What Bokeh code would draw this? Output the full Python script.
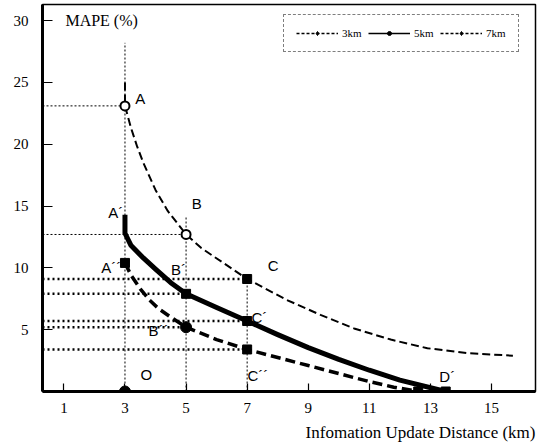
from bokeh.plotting import figure
from bokeh.models import Range1d, Label, Legend, LegendItem, FixedTicker, ColumnDataSource, Title
from bokeh.embed import file_html
from bokeh.resources import INLINE
from bokeh.core.properties import value

NaN = float("nan")

# ---------------- data ----------------
x_3km = [3.0, 3.0, 3.2, 3.4, 3.6, 4.0, 4.4, 5.0, 5.5, 7.0, 8.3, 9.4, 10.5, 11.7, 12.9, 14.2, 15.7]
y_3km = [25.0, 23.1, 21.3, 19.8, 18.5, 16.3, 14.6, 12.7, 11.6, 9.1, 7.4, 6.2, 5.1, 4.2, 3.5, 3.1, 2.9]

x_5km = [3.0, 3.0, 3.2, 3.6, 4.0, 4.5, 5.0, 6.0, 7.0, 8.0, 9.0, 10.0, 11.0, 12.0, 13.5]
y_5km = [14.3, 12.8, 11.8, 10.8, 9.9, 8.8, 7.9, 6.8, 5.7, 4.6, 3.55, 2.6, 1.72, 0.92, 0.0]

x_7km = [3.0, 3.2, 3.5, 3.8, 4.1, 4.45, 5.0, 6.0, 7.0, 8.0, 9.0, 10.0, 11.0, 11.8, 12.6]
y_7km = [10.4, 9.4, 8.3, 7.4, 6.7, 6.1, 5.2, 4.2, 3.4, 2.75, 2.1, 1.45, 0.8, 0.35, 0.0]

x_ticks = [1, 3, 5, 7, 9, 11, 13, 15]
y_ticks = [5, 10, 15, 20, 25, 30]

# marked points
open_x = [3, 5]
open_y = [23.1, 12.7]
square_x = [7, 5, 7, 13.5, 3, 7, 12.6]
square_y = [9.1, 7.9, 5.7, 0.0, 10.4, 3.4, 0.0]
dot_x = [5, 3]
dot_y = [5.2, 0.0]

# reference (projection) lines
thin_h_y = [23.1, 12.7]
thin_h_xend = [3, 5]
thick_h_y = [9.1, 7.9, 5.7, 5.2, 3.4]
thick_h_xend = [7, 5, 7, 5, 7]
vert_x = [3, 5, 7]
vert_top = [28.2, 14.1, 9.1]

# point names
pt_names = ["A", "B", "C", "A´", "B´", "C´", "A´´", "B´´", "C´´", "D´", "O"]
pt_lx = [3.5, 5.35, 7.85, 2.7, 4.75, 7.4, 2.55, 4.1, 7.35, 13.55, 3.7]
pt_ly = [23.7, 15.2, 10.2, 14.5, 9.85, 5.95, 10.0, 4.9, 1.27, 1.2, 1.4]

X0, X1 = 0.3, 16.44
Y0, Y1 = 0.0, 31.3

p = figure(width=538, height=446, x_range=Range1d(X0, X1), y_range=Range1d(Y0, Y1),
           output_backend="svg", toolbar_location=None,
           min_border_left=42, min_border_right=3, min_border_top=4, min_border_bottom=54)

p.xgrid.visible = False
p.ygrid.visible = False
p.outline_line_color = "black"
p.outline_line_width = 1.5
p.background_fill_color = "white"
p.border_fill_color = "white"

for ax in (p.xaxis[0], p.yaxis[0]):
    ax.axis_line_width = 3
    ax.axis_line_color = "black"
    ax.major_tick_out = 0
    ax.major_tick_line_width = 1.2
    ax.minor_tick_line_color = None
    ax.major_label_text_font = "Liberation Serif"
    ax.major_label_text_font_size = "15px"
    ax.major_label_text_color = "black"

p.xaxis.ticker = FixedTicker(ticks=x_ticks)
p.yaxis.ticker = FixedTicker(ticks=y_ticks)
p.xaxis.major_tick_in = 8
p.yaxis.major_tick_in = 10
p.xaxis.major_label_standoff = 11
p.yaxis.major_label_standoff = 14

# projection lines
p.segment(x0=[X0] * len(thin_h_y), y0=thin_h_y, x1=thin_h_xend, y1=thin_h_y,
          line_color="black", line_width=1, line_dash="2 2")
p.segment(x0=[X0] * len(thick_h_y), y0=thick_h_y, x1=thick_h_xend, y1=thick_h_y,
          line_color="black", line_width=2.5, line_dash="2 3")
p.segment(x0=vert_x, y0=[0] * len(vert_x), x1=vert_x, y1=vert_top,
          line_color="black", line_width=1, line_dash="2 2")

# curves
p.line(x_3km, y_3km, line_color="black", line_width=2, line_dash="8 4", line_join="round")
p.line(x_5km, y_5km, line_color="black", line_width=5, line_join="round")
p.line(x_7km, y_7km, line_color="black", line_width=3.5, line_dash="10 5", line_join="round")

# markers
p.scatter(open_x, open_y, marker="circle", size=9, fill_color="white",
          line_color="black", line_width=2)
p.scatter(square_x, square_y, marker="square", size=9, fill_color="black", line_color="black")
p.scatter(dot_x, dot_y, marker="circle", size=11, fill_color="black", line_color="black")

# point names
src = ColumnDataSource(dict(x=pt_lx, y=pt_ly, t=pt_names))
p.text(x="x", y="y", text="t", source=src, text_font=value("Liberation Sans"),
       text_font_size="15px", text_align="center", text_baseline="middle", text_color="black")

# axis titles
p.add_layout(Label(x=1.05, y=30.0, text="MAPE (%)", text_font="Liberation Serif",
                   text_font_size="16px", text_baseline="middle", text_align="left",
                   text_color="black"))
p.add_layout(Title(text="Infomation Update Distance (km)", align="right",
                   text_font="Liberation Serif", text_font_size="17px",
                   text_font_style="normal", text_color="black"), "below")

# legend (thin sample lines)
l3 = p.line([NaN], [NaN], line_color="black", line_width=1.3, line_dash="3 2")
m3 = p.scatter([NaN], [NaN], marker="diamond", size=6, fill_color="black", line_color="black")
l5 = p.line([NaN], [NaN], line_color="black", line_width=1.3)
m5 = p.scatter([NaN], [NaN], marker="circle", size=4, fill_color="black", line_color="black")
l7 = p.line([NaN], [NaN], line_color="black", line_width=1.3, line_dash="3 2")
m7 = p.scatter([NaN], [NaN], marker="diamond", size=6, fill_color="black", line_color="black")

legend = Legend(items=[LegendItem(label="3km", renderers=[l3, m3]),
                       LegendItem(label="5km", renderers=[l5, m5]),
                       LegendItem(label="7km", renderers=[l7, m7])],
                orientation="horizontal", location=(241, 339),
                border_line_color="black", border_line_width=1.3, border_line_dash="3 2",
                background_fill_color="white", background_fill_alpha=1.0,
                label_text_font="Liberation Serif", label_text_font_size="11px",
                label_text_color="black",
                glyph_width=42, glyph_height=10, label_standoff=4, spacing=6,
                padding=12, margin=0)
p.add_layout(legend)

open("out.html", "w").write(file_html(p, INLINE))
